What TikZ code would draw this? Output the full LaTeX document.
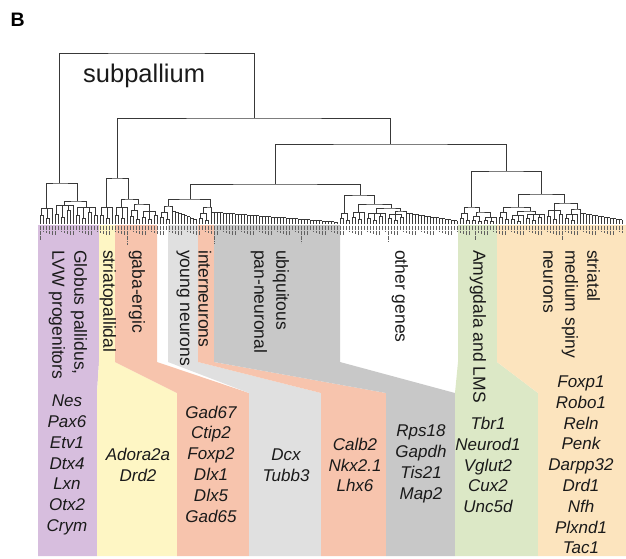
\documentclass[tikz,border=0pt]{standalone}
\usepackage{fontspec}
\setmainfont{Liberation Sans}
\definecolor{purp}{HTML}{D7BEDE}
\definecolor{yell}{HTML}{FEF6C4}
\definecolor{salm}{HTML}{F7C4AD}
\definecolor{lgray}{HTML}{E0E0E0}
\definecolor{mgray}{HTML}{C8C8C8}
\definecolor{gree}{HTML}{DCE8C6}
\definecolor{oran}{HTML}{FCE4BE}
\definecolor{treec}{HTML}{383838}
\definecolor{inkc}{HTML}{1A1A1A}

% small cluster: leaves in pairs hanging from one bar
\newcommand\leafgrp[4]{%
  \pgfmathtruncatemacro\np{#3/2}
  \pgfmathtruncatemacro\nr{#3-2*\np}
  \foreach \k in {1,...,\np}{
    \pgfmathsetmacro\xa{#2+6*(\k-1)}
    \pgfmathsetmacro\yp{#4+(224-#4)*(0.3+0.17*mod(\k,3))}
    \draw[leaf] (\xa,224) -- (\xa,\yp) -- (\xa+3,\yp) -- (\xa+3,224);
    \draw[leaf] (\xa+1.5,\yp) -- (\xa+1.5,#4);
  }
  \ifnum\nr=1
    \pgfmathsetmacro\xl{#2+6*\np}
    \draw[leaf] (\xl,224) -- (\xl,#4);
  \else
    \pgfmathsetmacro\xl{#2+6*\np-4.5}
  \fi
  \draw[leaf] (#2+1.5,#4) -- (\xl,#4);
  \coordinate (#1) at ({(#2+1.5+\xl)/2},#4);
}
% chained cluster: bars step down from left to right
\newcommand\leafstair[5]{%
  \foreach \k in {1,...,#3}{
    \pgfmathsetmacro\xa{#2+3*(\k-1)}
    \pgfmathsetmacro\yt{#4+(#5-#4)*max(\k-2,0)/(#3-1)}
    \draw[leaf] (\xa,224) -- (\xa,\yt);
    \ifnum\k<#3
      \pgfmathsetmacro\yb{#4+(#5-#4)*(\k-1)/(#3-1)}
      \draw[leaf] (\xa,\yb) -- (\xa+3,\yb);
    \fi
  }
  \coordinate (#1) at (#2,#4);
}
\newcommand\joinpair[5]{%
  \coordinate (#1) at (#4,#5);
  \draw[link] (#2) |- (#1) -| (#3);
}

\tikzset{
  leaf/.style={draw=treec, line width=0.5pt},
  link/.style={draw=treec, line width=0.8pt},
  tag/.style={draw=black!62, line width=1.0pt, dash pattern=on 1.3pt off 0.4pt},
  grplbl/.style={rotate=-90, anchor=west, align=left, inner sep=0pt, text=inkc,
    font=\fontsize{17.5}{22}\selectfont},
  genes/.style={align=center, inner sep=0pt, text=inkc,
    font=\fontsize{17}{20.8}\selectfont\itshape}
}

\begin{document}
\begin{tikzpicture}[x=1pt, y=-1pt]
\useasboundingbox (0,0) rectangle (626,558);

% colour bands
\fill[purp] (38,225) -- (99,225) -- (99,362) -- (97,393) -- (97,556) -- (38,556) -- cycle;
\fill[yell] (99,225) -- (115,225) -- (115,362) -- (177,393) -- (177,556) -- (97,556) -- (97,393) -- (99,362) -- cycle;
\fill[salm] (115,225) -- (157,225) -- (157,362) -- (249,393) -- (249,556) -- (177,556) -- (177,393) -- (115,362) -- cycle;
\fill[lgray] (168,225) -- (198,225) -- (198,362) -- (321,393) -- (321,556) -- (249,556) -- (249,393) -- (168,362) -- cycle;
\fill[salm] (198,225) -- (214,225) -- (214,362) -- (386,393) -- (386,556) -- (321,556) -- (321,393) -- (198,362) -- cycle;
\fill[mgray] (214,225) -- (340,225) -- (340,362) -- (455,393) -- (455,556) -- (386,556) -- (386,393) -- (214,362) -- cycle;
\fill[gree] (458,225) -- (497,225) -- (497,362) -- (538,393) -- (538,556) -- (455,556) -- (455,393) -- (458,362) -- cycle;
\fill[oran] (497,225) -- (626,225) -- (626,556) -- (538,556) -- (538,393) -- (497,362) -- cycle;

% leaf labels
\foreach \i in {0,...,194}{
  \pgfmathsetmacro\lx{40+3*\i}
  \pgfmathsetmacro\ll{5+mod(37*\i,6)+9*(mod(13*\i,29)==0)}
  \draw[tag] (\lx,225.5) -- (\lx,225.5+\ll);
}

% dendrogram
\leafgrp{A1}{40}{5}{208}
\leafgrp{A2a}{55}{7}{205}
\leafgrp{A2b}{76}{8}{207}
\joinpair{A2}{A2a}{A2b}{77}{201}
\joinpair{A}{A1}{A2}{59}{183}
\leafgrp{B1a}{100}{5}{207}
\leafgrp{B1b1}{115}{5}{207}
\leafgrp{B1b2a}{130}{4}{210}
\leafgrp{B1b2b}{142}{6}{211}
\joinpair{B1b2}{B1b2a}{B1b2b}{138}{204}
\joinpair{B1b}{B1b1}{B1b2}{128}{199}
\joinpair{B1}{B1a}{B1b}{117}{178}
\leafgrp{D1a1}{160}{4}{212}
\leafstair{D1a2}{172}{9}{211}{220}
\joinpair{D1a}{D1a1}{D1a2}{168}{206}
\leafgrp{D1b1}{199}{4}{213}
\leafstair{D1b2}{211}{43}{212}{222}
\joinpair{D1b}{D1b1}{D1b2}{210}{207}
\joinpair{D1}{D1a}{D1b}{190}{199}
\leafgrp{D2a}{340}{4}{213}
\leafgrp{D2b1}{352}{5}{212}
\leafgrp{D2b2a}{367}{7}{213}
\leafgrp{D2b2b1}{388}{6}{214}
\leafstair{D2b2b2}{406}{18}{213}{221}
\joinpair{D2b2b}{D2b2b1}{D2b2b2}{400}{211}
\joinpair{D2b2}{D2b2a}{D2b2b}{391}{208}
\joinpair{D2b}{D2b1}{D2b2}{374}{204}
\joinpair{D2}{D2a}{D2b}{360}{195}
\joinpair{D}{D1}{D2}{275}{184}
\leafgrp{E1a}{460}{4}{213}
\leafgrp{E1b1}{472}{4}{216}
\leafgrp{E1b2}{484}{5}{217}
\joinpair{E1b}{E1b1}{E1b2}{479}{212}
\joinpair{E1}{E1a}{E1b}{471}{207}
\leafgrp{E2a1}{499}{4}{212}
\leafgrp{E2a2a}{511}{5}{215}
\leafgrp{E2a2b}{526}{7}{214}
\joinpair{E2a2}{E2a2a}{E2a2b}{530}{211}
\joinpair{E2a}{E2a1}{E2a2}{518}{207}
\leafgrp{E2b1}{547}{6}{210}
\leafgrp{E2b2a}{565}{5}{214}
\leafstair{E2b2b}{580}{15}{213}{220}
\joinpair{E2b2}{E2b2a}{E2b2b}{577}{209}
\joinpair{E2b}{E2b1}{E2b2}{564}{203}
\joinpair{E2}{E2a}{E2b}{541}{194}
\joinpair{E}{E1}{E2}{506}{171}
\joinpair{C}{D}{E}{390}{144}
\joinpair{B}{B1}{C}{254}{118}
\joinpair{root}{A}{B}{156}{53}

\node[anchor=base west, inner sep=0pt, font=\fontsize{19.5}{24}\selectfont\bfseries] (panel) at (10.5,26) {B};
\node[anchor=base west, inner sep=0pt, text=inkc, font=\fontsize{25.5}{30}\selectfont] (subp) at (83,82) {subpallium};

% group names
\node[grplbl] (globus) at (68,250) {Globus pallidus,\\LVW progenitors};
\node[grplbl] (stpal) at (108,250) {striatopallidal};
\node[grplbl] (gaba) at (137,250) {gaba-ergic};
\node[grplbl] (young) at (183,250) {young neurons};
\node[grplbl] (inter) at (205,250) {interneurons};
\node[grplbl] (ubiq) at (270,250) {ubiquitous\\pan-neuronal};
\node[grplbl] (other) at (400,250) {other genes};
\node[grplbl] (amyg) at (478,250) {Amygdala and LMS};
\node[grplbl] (msn) at (571.5,250) {striatal\\medium spiny\\neurons};

% marker genes
\node[genes] (gglobus) at (67,465) {Nes\\Pax6\\Etv1\\Dtx4\\Lxn\\Otx2\\Crym};
\node[genes] (gstpal) at (138,465) {Adora2a\\Drd2};
\node[genes] (ggaba) at (211,464) {Gad67\\Ctip2\\Foxp2\\Dlx1\\Dlx5\\Gad65};
\node[genes] (gyoung) at (286,465) {Dcx\\Tubb3};
\node[genes] (ginter) at (355,465) {Calb2\\Nkx2.1\\Lhx6};
\node[genes] (gubiq) at (421,464) {Rps18\\Gapdh\\Tis21\\Map2};
\node[genes] (gamyg) at (488,465) {Tbr1\\Neurod1\\Vglut2\\Cux2\\Unc5d};
\node[genes] (gmsn) at (581,465) {Foxp1\\Robo1\\Reln\\Penk\\Darpp32\\Drd1\\Nfh\\Plxnd1\\Tac1};
\end{tikzpicture}
\end{document}
